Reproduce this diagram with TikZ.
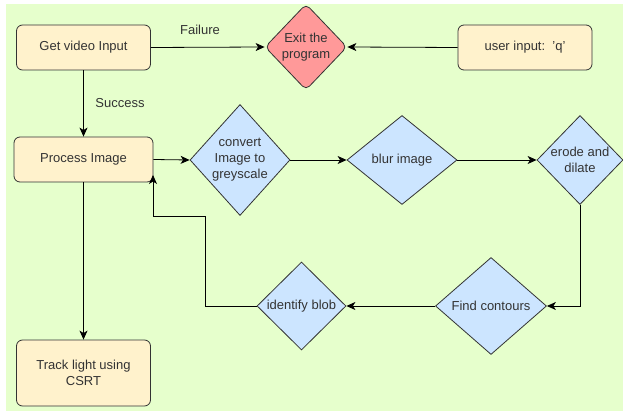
\documentclass[tikz,border=0pt]{standalone}
\usepackage{fontspec}
\setmainfont{Liberation Sans}
\usetikzlibrary{shapes.geometric,arrows.meta}
\definecolor{bggreen}{HTML}{E6FFCC}
\definecolor{boxyellow}{HTML}{FFF2CC}
\definecolor{diablue}{HTML}{CCE5FF}
\definecolor{diared}{HTML}{FF9999}
\definecolor{edgegray}{HTML}{333333}
\definecolor{textgray}{HTML}{333333}
\tikzset{
  x=1pt, y=-1pt,
  every node/.style={font=\fontsize{13}{16}\selectfont, text=textgray},
  procbox/.style={draw=edgegray, line width=0.8pt, fill=boxyellow, rounded corners=6pt, minimum width=134pt, minimum height=45pt, align=center, inner sep=0pt},
  decdia/.style={diamond, draw=edgegray, line width=0.8pt, fill=diablue, inner sep=0pt},
  conn/.style={draw=black, line width=0.8pt, -{Stealth[length=9pt,width=8pt,inset=2.5pt]}},
  lbl/.style={font=\fontsize{13}{16}\selectfont, text=textgray}
}
\begin{document}
\begin{tikzpicture}
\useasboundingbox (0,0) rectangle (623,411);
\fill[white] (0,0) rectangle (623,411);
\fill[bggreen] (6,4) rectangle (623,411);

\node[procbox] (get) at (83.5,47.5) {Get video Input};
\node[procbox] (user) at (525,47.5) {user input:\ \ 'q'};
\node[procbox, minimum width=139pt] (proc) at (83.5,159.5) {Process Image};
\node[procbox, minimum height=66pt] (track) at (83.5,373) {Track light using\\CSRT};

\node[diamond, draw=edgegray, line width=0.8pt, fill=diared, rounded corners=5pt, inner sep=0pt, minimum width=82pt, minimum height=86pt,
  label={[lbl, align=center]center:Exit the\\program}] (exit) at (306,47) {};

\node[decdia, minimum width=100pt, minimum height=111pt,
  label={[lbl, align=center]center:convert\\Image to\\greyscale}] (conv) at (240,160) {};
\node[decdia, minimum width=110pt, minimum height=89pt,
  label={[lbl, align=center]center:blur image}] (blur) at (402,160) {};
\node[decdia, minimum width=86pt, minimum height=89pt,
  label={[lbl, align=center]center:erode and\\dilate}] (erode) at (580,160) {};
\node[decdia, minimum width=111pt, minimum height=97pt,
  label={[lbl, align=center]center:Find contours}] (find) at (491,306) {};
\node[decdia, minimum width=89pt, minimum height=88pt,
  label={[lbl, align=center]center:identify blob}] (blob) at (301.5,306) {};

\coordinate (c1) at (580,306);
\coordinate (c2) at (205,306);
\coordinate (c3) at (205,216.5);
\coordinate (c4) at (153,216.5);
\coordinate (c5) at (153,175);

\draw[conn] (get.east) -- (exit.west);
\node[lbl] (fail) at (200,30) {Failure};
\draw[conn] (get.south) -- (proc.north);
\node[lbl] (succ) at (120,103) {Success};
\draw[conn] (user.west) -- (exit.east);
\draw[conn] (proc.east) -- (conv.west);
\draw[conn] (conv.east) -- (blur.west);
\draw[conn] (blur.east) -- (erode.west);
\draw[conn] (erode.south) -- (c1) -- (find.east);
\draw[conn] (find.west) -- (blob.east);
\draw[conn] (blob.west) -- (c2) -- (c3) -- (c4) -- (c5);
\draw[conn] (proc.south) -- (track.north);
\end{tikzpicture}
\end{document}
